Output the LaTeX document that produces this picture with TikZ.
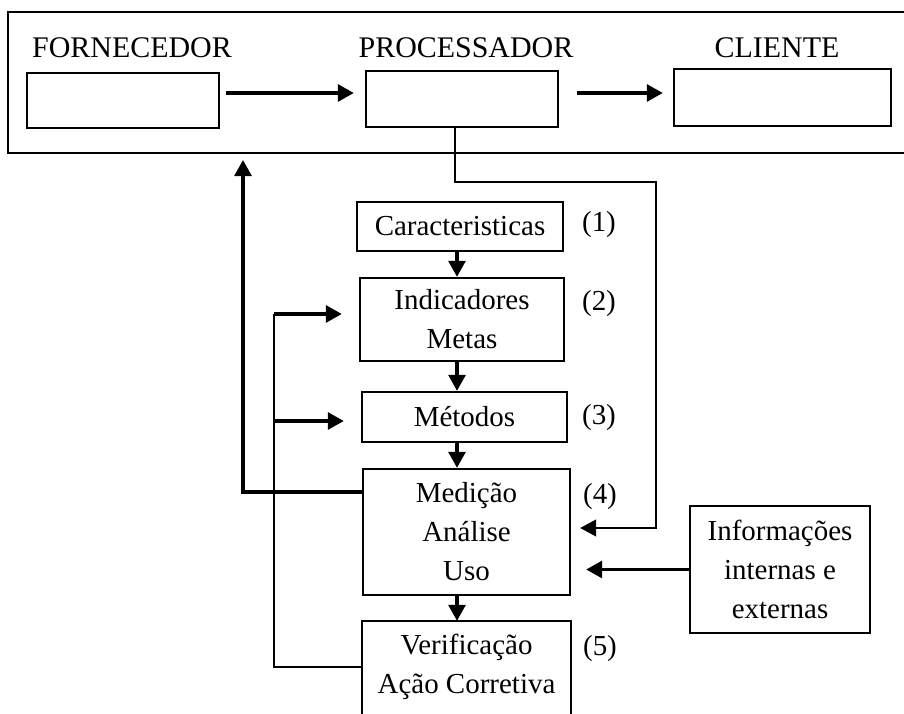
\documentclass[tikz,border=0pt]{standalone}
\usepackage{fontspec}
\setmainfont{Liberation Serif}
\usepackage{tikz}
\usetikzlibrary{shapes,arrows,arrows.meta}
\tikzset{
  bloco/.style  = {draw, line width=1.6pt, inner sep=0pt, align=center},
  aberto/.style = {line width=1.6pt, inner sep=0pt, align=center},
  titulo/.style = {font=\fontsize{21.3}{26}\selectfont},
  ponta/.style  = {-{Triangle[length=0.4cm,width=0.42cm]}},
  seta/.style   = {ponta, line width=2.5pt},
  linha/.style  = {line width=1.3pt}
}

\begin{document}
\begin{tikzpicture}[x=0.025cm, y=-0.025cm, font=\fontsize{20.6}{27.7}\selectfont]
  \useasboundingbox (0,0) rectangle (904,714);
  \node[bloco, minimum width=22.8cm, minimum height=3.525cm] (quadro) at (464,82.5) {};
  \node[titulo] (fornlabel) at (132,48) {FORNECEDOR};
  \node[titulo] (proclabel) at (466,48) {PROCESSADOR};
  \node[titulo] (clilabel)  at (777,48) {CLIENTE};
  \node[bloco, minimum width=4.8cm, minimum height=1.375cm] (forn) at (123,100.5) {};
  \node[bloco, minimum width=4.8cm, minimum height=1.4cm] (proc) at (462,99) {};
  \node[bloco, minimum width=5.425cm, minimum height=1.425cm] (cli) at (782.5,97.5) {};
  \draw[seta, shorten <=0.15cm, shorten >=0.275cm]
    ([yshift=0.1875cm]forn.east) -- ([yshift=0.1875cm]forn.east -| proc.west);
  \draw[seta, shorten <=0.45cm, shorten >=0.25cm]
    ([yshift=0.15cm]proc.east) -- ([yshift=0.15cm]proc.east -| cli.west);

  \node[bloco, minimum width=5.15cm, minimum height=1.225cm] (carac) at (460,226.5) {Caracteristicas};
  \node[bloco, minimum width=5.1cm, minimum height=2.075cm] (indic) at (462,319.5) {Indicadores\\Metas};
  \node[bloco, minimum width=5.125cm, minimum height=1.25cm] (metod) at (464.5,417) {Métodos};
  \node[bloco, minimum width=5.175cm, minimum height=3.15cm] (medic) at (466.5,532) {Medição\\Análise\\Uso};
  \node[aberto, minimum width=5.175cm, minimum height=2.25cm] (verif) at (466.5,667) {Verificação\\Ação Corretiva};
  \draw[line width=1.6pt] ([yshift=-0.25cm]verif.south west) |- (verif.north east)
    -- ([yshift=-0.25cm]verif.south east);
  \node[bloco, minimum width=4.5cm, minimum height=3.175cm] (info) at (780,569.5) {Informações\\internas e\\externas};

  \node (n1) at (599,225) {(1)};
  \node (n2) at (599,304) {(2)};
  \node (n3) at (599,418) {(3)};
  \node (n4) at (600,497) {(4)};
  \node (n5) at (600,649) {(5)};

  \coordinate (eixo) at (457,0);
  \draw[seta] (carac.south -| eixo) -- (indic.north -| eixo);
  \draw[seta] (indic.south -| eixo) -- (metod.north -| eixo);
  \draw[seta] (metod.south -| eixo) -- (medic.north -| eixo);
  \draw[seta] (medic.south -| eixo) -- (verif.north -| eixo);

  \coordinate (desvio) at (656,182);
  \draw[linha, ponta, shorten >=0.225cm]
    ([xshift=-0.175cm]proc.south) |- (desvio) |- ([yshift=0.1cm]medic.east);
  \draw[seta, shorten >=0.375cm] (info.west) -- (info.west -| medic.east);

  \coordinate (retorno) at (243,153);
  \draw[seta, shorten >=0.175cm] ([yshift=1cm]medic.west) -| (retorno);

  \coordinate (laco) at (274,314);
  \coordinate (lacometodo) at (274,421);
  \draw[linha] (verif.west) -| (laco);
  \draw[seta, shorten >=0.425cm] (laco) -- (laco -| indic.west);
  \draw[seta, shorten >=0.425cm] (lacometodo) -- (lacometodo -| metod.west);
\end{tikzpicture}
\end{document}
